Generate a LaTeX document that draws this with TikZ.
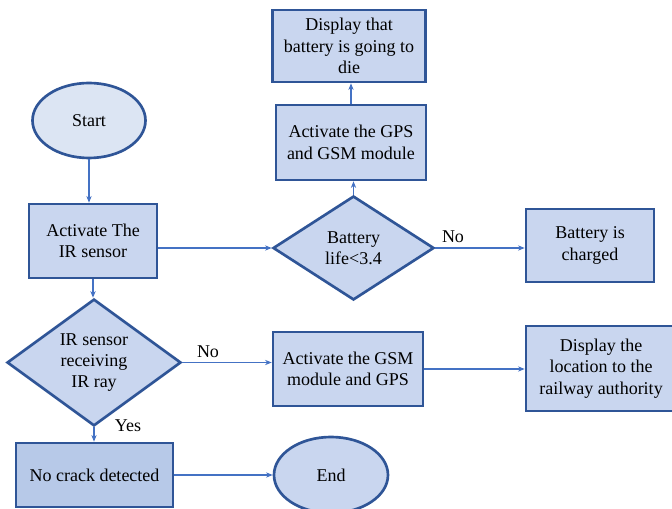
\documentclass[tikz,border=0pt]{standalone}
\usepackage{fontspec}
\setmainfont{Liberation Serif}
\usetikzlibrary{arrows.meta,shapes.geometric}
\definecolor{boxline}{HTML}{2F5597}
\definecolor{arrowblue}{HTML}{4472C4}
\definecolor{boxfill}{HTML}{C9D6EF}
\definecolor{startfill}{HTML}{DCE5F3}
\definecolor{darkfill}{HTML}{B7C9E8}
\tikzset{
    block/.style={rectangle, draw=boxline, line width=2pt, fill=boxfill, align=center, inner sep=1pt, font=\fontsize{13.5}{16}\selectfont},
    term/.style={ellipse, draw=boxline, line width=2pt, fill=boxfill, inner sep=1pt, font=\fontsize{13.5}{16}\selectfont},
    decision/.style={diamond, draw=boxline, line width=2pt, fill=boxfill, align=center, inner sep=0pt, font=\fontsize{13.5}{16}\selectfont},
    line/.style={-{Stealth[length=5pt,width=4pt]}, draw=arrowblue, line width=1pt},
    answer/.style={font=\fontsize{13.5}{16}\selectfont},
}
\begin{document}
\begin{tikzpicture}
        [x=0.75pt, y=-0.75pt]
        \useasboundingbox (0,0) rectangle (672,509);

        % Nodes of the left column
        \node[term, fill=startfill, minimum width=84.75pt, minimum height=56.25pt] (start) at (89,120.5) {Start};
        \node[block, minimum width=96pt, minimum height=55.5pt] (irsensor) at (93,241) {Activate The\\IR sensor};
        \node[decision, minimum width=130.5pt, minimum height=80.25pt] (irray) at (94,362.5) {IR sensor\\receiving\\IR ray};
        \node[block, fill=darkfill, minimum width=117.75pt, minimum height=48pt] (nocrack) at (94.5,475) {No crack detected};
        \node[term, minimum width=85.5pt, minimum height=57pt] (end) at (331,475) {End};

        % Nodes of the battery branch
        \node[decision, minimum width=120.75pt, minimum height=78pt] (battery) at (353.5,248) {Battery\\life<3.4};
        \node[block, minimum width=112.5pt, minimum height=56.25pt] (gps) at (351,142.5) {Activate the GPS\\and GSM module};
        \node[block, minimum width=114.75pt, minimum height=54pt] (die) at (349,46) {Display that\\battery is going to\\die};
        \node[block, minimum width=96pt, minimum height=54.75pt] (charged) at (590,245.5) {Battery is\\charged};

        % Nodes of the crack branch
        \node[block, minimum width=112.5pt, minimum height=55.5pt] (gsm) at (348,369) {Activate the GSM\\module and GPS};
        \node[block, minimum width=112.5pt, minimum height=63.75pt] (location) at (601,368.5) {Display the\\location to the\\railway authority};

        % Labels
        \node[answer] (nobattery) at (453,237) {No};
        \node[answer] (noray) at (208,352) {No};
        \node[answer] (yesray) at (128,426) {Yes};

        % Lines
        \draw[line] (start) -- (start |- irsensor.north);
        \draw[line] (irsensor.east |- battery) -- (battery.west);
        \draw[line] (battery.north) -- (battery.north |- gps.south);
        \draw[line] (gps.north) -- (gps.north |- die.south);
        \draw[line] (battery.east) -- (battery.east -| charged.west);
        \draw[line] (irsensor.south) -- (irsensor.south |- irray.north);
        \draw[line] (irray.east) -- (irray.east -| gsm.west);
        \draw[line] (gsm.east) -- (gsm.east -| location.west);
        \draw[line] (irray.south) -- (irray.south |- nocrack.north);
        \draw[line] (nocrack) -- (end);

    \end{tikzpicture}
\end{document}
